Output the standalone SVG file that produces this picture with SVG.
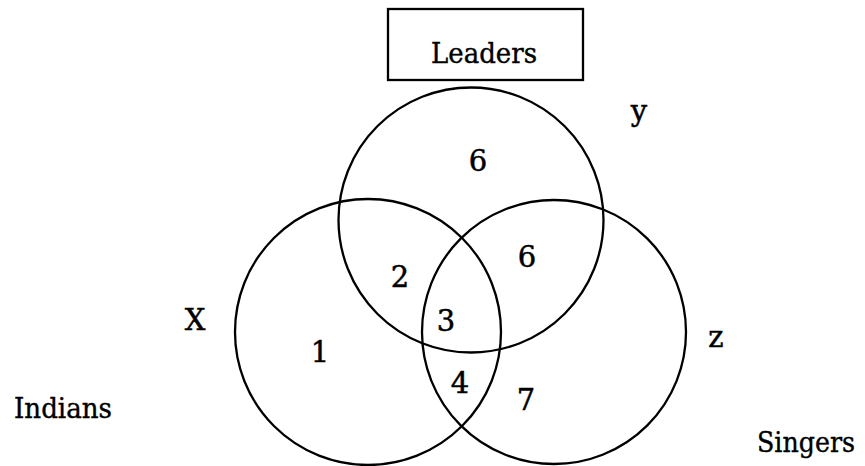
<svg xmlns="http://www.w3.org/2000/svg" width="865" height="466" viewBox="0 0 865 466">
<style>
.c{fill:none;stroke:#000;stroke-width:2.3}
.t{font-family:"DejaVu Serif","Liberation Serif",serif;font-size:29px;fill:#000;stroke:#000;stroke-width:0.5;text-anchor:middle}
.w{font-family:"DejaVu Serif","Liberation Serif",serif;font-size:28px;fill:#000;stroke:#000;stroke-width:0.4}
</style>
<rect width="865" height="466" fill="#fff"/>
<g id="leaders-box">
<rect x="388" y="9" width="195" height="71" class="c"/>
<text class="w" x="431" y="63" textLength="106" lengthAdjust="spacingAndGlyphs">Leaders</text>
</g>
<g id="circle-y"><circle cx="471" cy="220" r="132.5" class="c"/></g>
<g id="circle-x"><circle cx="368" cy="332" r="133" class="c"/></g>
<g id="circle-z"><circle cx="554" cy="332" r="132" class="c"/></g>
<g id="labels">
<text class="t" x="639" y="121">y</text>
<text class="t" x="195" y="330">X</text>
<text class="t" x="716" y="347">z</text>
<text class="w" x="14" y="418" textLength="98" lengthAdjust="spacingAndGlyphs">Indians</text>
<text class="w" x="757" y="452" textLength="98" lengthAdjust="spacingAndGlyphs">Singers</text>
</g>
<g id="numbers">
<text class="t" x="478" y="171">6</text>
<text class="t" x="527" y="267">6</text>
<text class="t" x="400" y="287">2</text>
<text class="t" x="446" y="331">3</text>
<text class="t" x="320" y="362">1</text>
<text class="t" x="460" y="393">4</text>
<text class="t" x="526" y="410">7</text>
</g>
<g id="connectors"></g>
</svg>
